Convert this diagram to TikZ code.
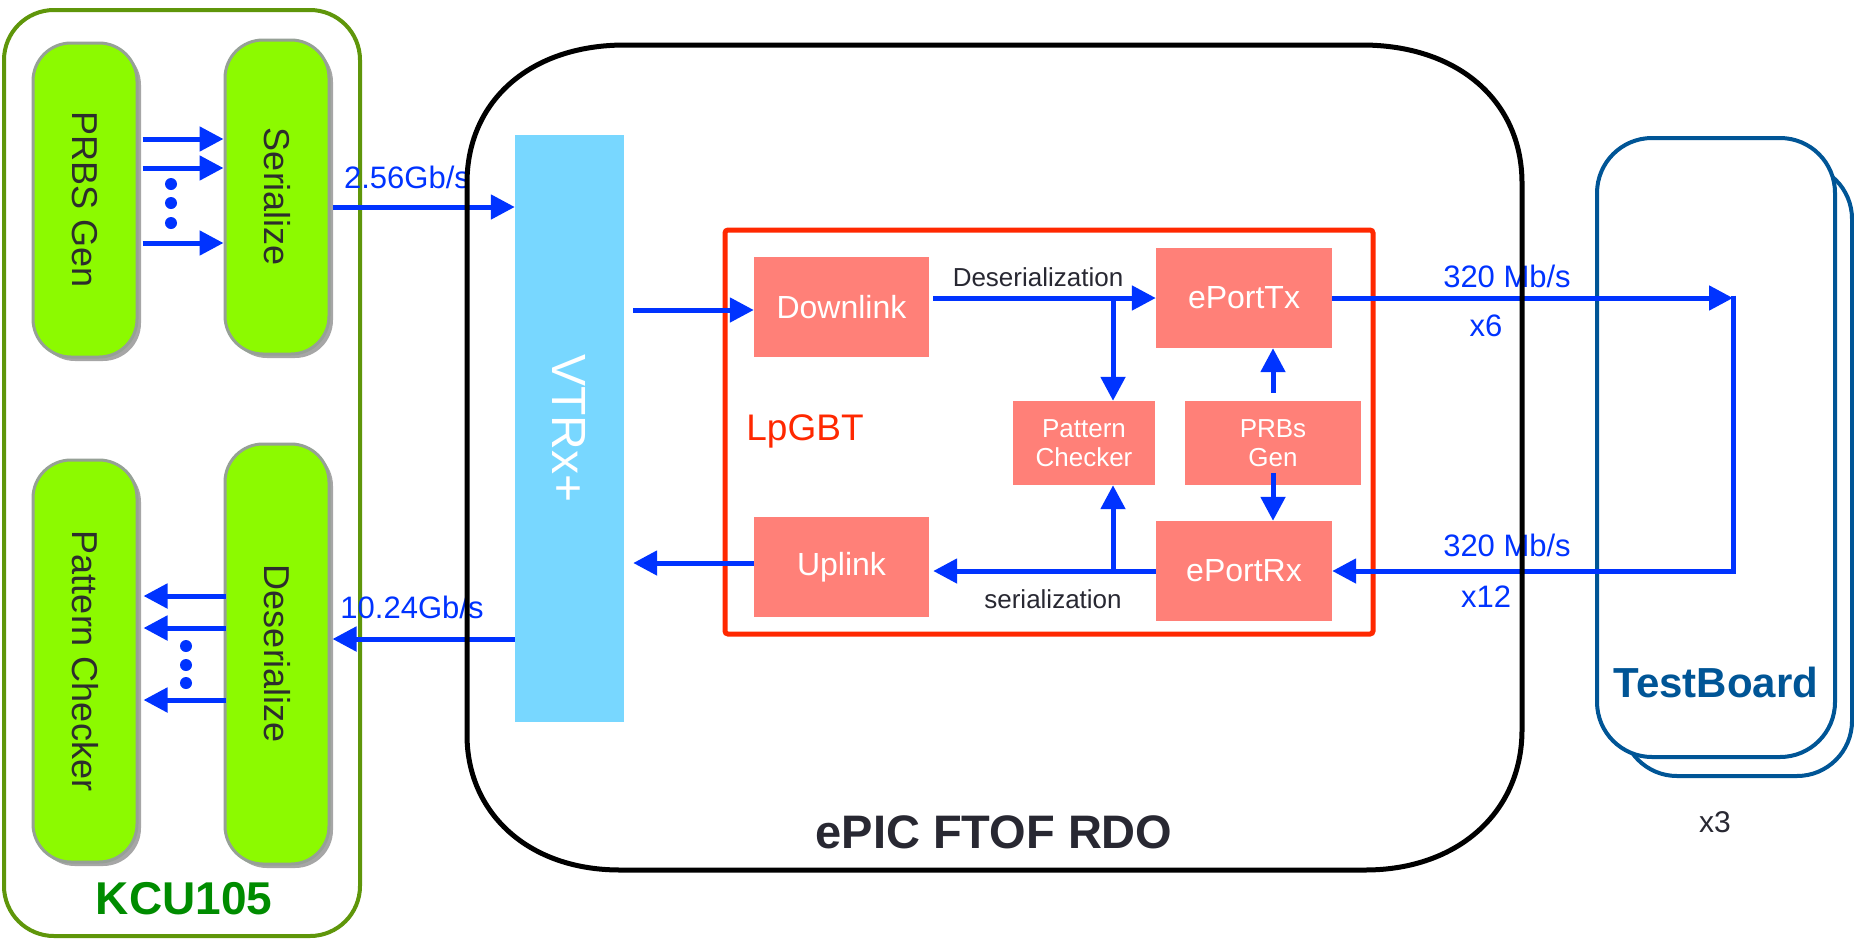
\documentclass[tikz,border=0pt]{standalone}
\usepackage{fontspec}
\setmainfont{Liberation Sans}
\usetikzlibrary{arrows.meta,shadows}
\definecolor{arrblue}{RGB}{0,51,255}
\definecolor{pillgreen}{RGB}{140,250,0}
\definecolor{pillborder}{RGB}{150,160,150}
\definecolor{pilltext}{RGB}{45,45,45}
\definecolor{kcugreen}{RGB}{95,150,10}
\definecolor{kcutext}{RGB}{0,140,0}
\definecolor{vtrxblue}{RGB}{120,215,255}
\definecolor{pinkbox}{RGB}{255,128,120}
\definecolor{lpred}{RGB}{255,40,0}
\definecolor{tbblue}{RGB}{0,85,150}
\definecolor{darktext}{RGB}{40,40,50}
\newcommand{\fsz}[1]{\fontsize{#1pt}{#1pt}\selectfont}
\begin{document}
\begin{tikzpicture}[x=1pt,y=-1pt,
  arr/.style={draw=arrblue,line width=5pt,-{Triangle[length=24pt,width=24pt]}},
  pill/.style={draw=pillborder,line width=3pt,fill=pillgreen,rounded corners=38pt,
    minimum width=104pt,inner sep=0pt,text=pilltext,font=\fsz{36},
    drop shadow={shadow xshift=4pt,shadow yshift=-4pt,opacity=0.35,fill=black}},
  pbox/.style={fill=pinkbox,text=white,inner sep=0pt,align=center},
  blab/.style={text=arrblue,font=\fsz{31},inner sep=0pt},
  dlab/.style={text=darktext,font=\fsz{26},inner sep=0pt},
  tb/.style={draw=tbblue,line width=4pt,rounded corners=55pt,fill=white,inner sep=0pt},
  dot/.style={circle,fill=arrblue,inner sep=0pt,minimum size=12pt}
]
\useasboundingbox (0,0) rectangle (1854,940);
\fill[white] (0,0) rectangle (1854,940);

% KCU105 board
\draw[kcugreen,line width=4pt,rounded corners=50pt] (4,10) rectangle (360,936);
\node[pill,minimum height=314pt] (prbs) at (85,200) {\rotatebox{-90}{PRBS Gen}};
\node[pill,minimum height=314pt] (ser) at (277,197) {\rotatebox{-90}{Serialize}};
\node[pill,minimum height=402pt] (pck) at (85,661) {\rotatebox{-90}{Pattern Checker}};
\node[pill,minimum height=420pt] (des) at (277,654) {\rotatebox{-90}{Deserialize}};

\node[fill=vtrxblue,minimum width=109pt,minimum height=587pt,inner sep=0pt,
  text=white,font=\fsz{48}] (vtrx) at (569.5,428.5) {\rotatebox{-90}{VTRx+}};

\draw[lpred,line width=5pt,rounded corners=3pt] (725,230) rectangle (1373,634);
\node[text=lpred,font=\fsz{37},inner sep=0pt] (lpgbt) at (805,431) {LpGBT};

\node[pbox,minimum width=175pt,minimum height=100pt,font=\fsz{32}] (down) at (841.5,307) {Downlink};
\node[pbox,minimum width=176pt,minimum height=100pt,font=\fsz{32}] (ptx) at (1244,298) {ePortTx};
\node[pbox,minimum width=142pt,minimum height=84pt,font=\fontsize{26pt}{29pt}\selectfont] (pchk) at (1084,443) {Pattern\\Checker};
\node[pbox,minimum width=176pt,minimum height=84pt,font=\fontsize{26pt}{29pt}\selectfont] (prbsg) at (1273,443) {PRBs\\Gen};
\node[pbox,minimum width=175pt,minimum height=100pt,font=\fsz{32}] (up) at (841.5,567) {Uplink};
\node[pbox,minimum width=176pt,minimum height=100pt,font=\fsz{32}] (prx) at (1244,571) {ePortRx};

% TestBoards
\node[tb,minimum width=230pt,minimum height=612pt] (tbback) at (1737,470) {};
\node[tb,minimum width=238pt,minimum height=619pt] (tbfront) at (1716,447.5) {};

% KCU arrows
\foreach \yy in {139,168,243}
  \draw[arr] ([xshift=4pt]prbs.east |- 0,\yy) -- (ser.west |- 0,\yy);
\node[dot] (d1) at (171,184) {};
\node[dot] (d2) at (171,203) {};
\node[dot] (d3) at (171,223) {};
\foreach \yy in {596,628,700}
  \draw[arr] ([xshift=2pt]des.west |- 0,\yy) -- ([xshift=5pt]pck.east |- 0,\yy);
\node[dot] (d4) at (186,646) {};
\node[dot] (d5) at (186,665) {};
\node[dot] (d6) at (186,683) {};

\draw[arr] ([xshift=2pt]ser.east |- 0,207) -- (vtrx.west |- 0,207);
\draw[arr] (vtrx.west |- 0,639) -- ([xshift=2pt]des.east |- 0,639);

% LpGBT arrows
\draw[arr] ([xshift=9pt]vtrx.east |- 0,310) -- (down.west |- 0,310);
\draw[arr] (up.west |- 0,563) -- ([xshift=9pt]vtrx.east |- 0,563);
\draw[arr] ([xshift=4pt]down.east |- ptx.west) -- (ptx.west);
\coordinate (bt) at (1113,298);
\draw[arr] (bt) -- (bt |- pchk.north);
\draw[arr] ([yshift=8pt]prbsg.north) -- (prbsg.north |- ptx.south);
\draw[arr] ([yshift=12pt]prbsg.south) -- (prbsg.south |- prx.north);
\draw[arr] (prx.west) -- ([xshift=4pt]down.east |- prx.west);
\coordinate (bb) at (1113,571);
\draw[arr] (bb) -- (bb |- pchk.south);

% to / from TestBoard
\coordinate (tbt) at (1733,298);
\coordinate (tbb) at (1733,571);
\draw[arr] (ptx.east) -- (tbt);
\draw[arr,line join=miter] ([yshift=2.5pt]tbt) -- (tbb) -- (prx.east);

% labels
\node[blab] (l256) at (407,177) {2.56Gb/s};
\node[blab] (l1024) at (412,607) {10.24Gb/s};
\node[blab] (l320a) at (1507,276) {320 Mb/s};
\node[blab] (lx6) at (1486,326) {x6};
\node[blab] (l320b) at (1507,545) {320 Mb/s};
\node[blab] (lx12) at (1486,597) {x12};
\node[dlab] (ldes) at (1038,277) {Deserialization};
\node[dlab] (lser) at (1053,599) {serialization};
\node[text=kcutext,font=\bfseries\fsz{46},inner sep=0pt] (kcu) at (184,899) {KCU105};
\node[text=darktext,font=\bfseries\fsz{47},inner sep=0pt] (epic) at (994,832) {ePIC FTOF RDO};
\node[text=tbblue,font=\bfseries\fsz{42},inner sep=0pt] (tbl) at (1716,682) {TestBoard};
\node[text=darktext,font=\fsz{30},inner sep=0pt] (x3) at (1715,822) {x3};

% ePIC FTOF RDO board outline (drawn over the crossing lines)
\draw[black,line width=5pt] (625,45) -- (1362,45)
  .. controls (1458,45) and (1522,101) .. (1522,183) -- (1522,730)
  .. controls (1522,812) and (1458,870) .. (1365,870) -- (620,870)
  .. controls (527,870) and (467,812) .. (467,735) -- (467,183)
  .. controls (467,101) and (530,45) .. (625,45) -- cycle;
\end{tikzpicture}
\end{document}
